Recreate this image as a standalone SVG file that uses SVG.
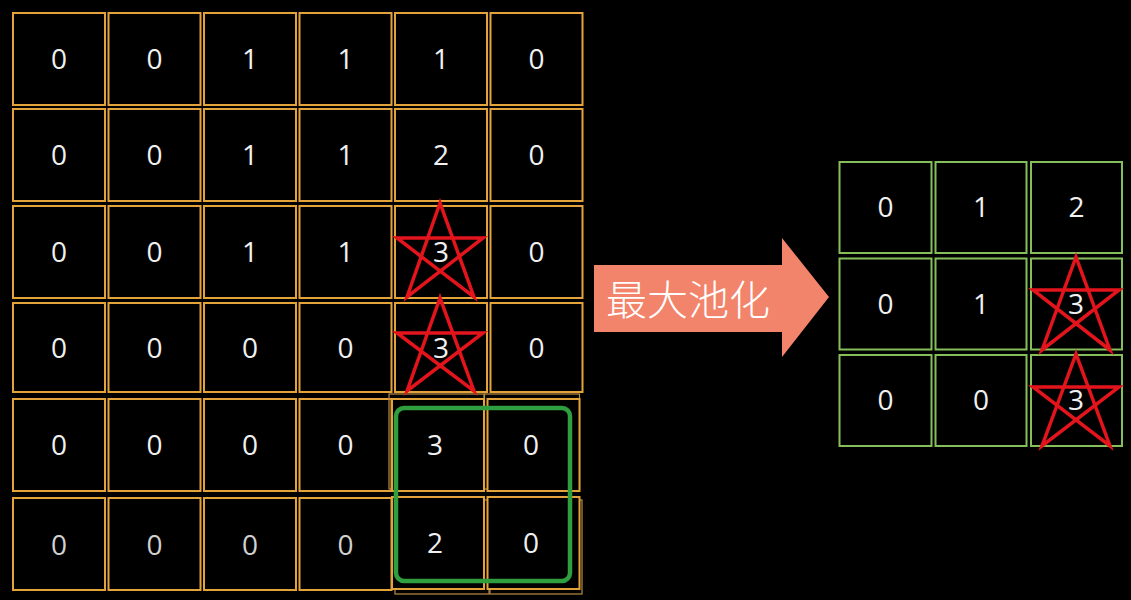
<svg xmlns="http://www.w3.org/2000/svg" width="1131" height="600" viewBox="0 0 1131 600">
<style>
.bg{fill:#000}
.oc{fill:#000;stroke:#e3a33a;stroke-width:2}
.oc2{fill:none;stroke:#b98a45;stroke-width:1.2}
.gc{fill:#000;stroke:#86bf5a;stroke-width:2}
.n{font-family:"Open Sans","Noto Sans",sans-serif;font-size:28px;fill:#f0f0f0;text-anchor:middle}
.n.dim{fill:#d0d0d0}
.star{fill:none;stroke:#e3141c;stroke-width:3.5;stroke-linejoin:miter}
.win{fill:none;stroke:#2e9e3e;stroke-width:4.5}
.arrow{fill:#f2846b}
.lbl{font-family:"Noto Sans CJK SC","Noto Sans",sans-serif;font-size:41px;font-weight:300;fill:#ffffff}
</style>
<rect class="bg" x="0" y="0" width="1131" height="600"/>

<g id="input-grid">
  <g id="in-r1">
    <rect class="oc" x="13" y="13" width="92" height="92"/><text class="n" x="59" y="69">0</text>
    <rect class="oc" x="108.5" y="13" width="92" height="92"/><text class="n" x="154.5" y="69">0</text>
    <rect class="oc" x="204" y="13" width="92" height="92"/><text class="n" x="250" y="69">1</text>
    <rect class="oc" x="299.5" y="13" width="92" height="92"/><text class="n" x="345.5" y="69">1</text>
    <rect class="oc" x="395" y="13" width="92" height="92"/><text class="n" x="441" y="69">1</text>
    <rect class="oc" x="490.5" y="13" width="92" height="92"/><text class="n" x="536.5" y="69">0</text>
  </g>
  <g id="in-r2">
    <rect class="oc" x="13" y="109" width="92" height="92"/><text class="n" x="59" y="165">0</text>
    <rect class="oc" x="108.5" y="109" width="92" height="92"/><text class="n" x="154.5" y="165">0</text>
    <rect class="oc" x="204" y="109" width="92" height="92"/><text class="n" x="250" y="165">1</text>
    <rect class="oc" x="299.5" y="109" width="92" height="92"/><text class="n" x="345.5" y="165">1</text>
    <rect class="oc" x="395" y="109" width="92" height="92"/><text class="n" x="441" y="165">2</text>
    <rect class="oc" x="490.5" y="109" width="92" height="92"/><text class="n" x="536.5" y="165">0</text>
  </g>
  <g id="in-r3">
    <rect class="oc" x="13" y="206" width="92" height="92"/><text class="n" x="59" y="262">0</text>
    <rect class="oc" x="108.5" y="206" width="92" height="92"/><text class="n" x="154.5" y="262">0</text>
    <rect class="oc" x="204" y="206" width="92" height="92"/><text class="n" x="250" y="262">1</text>
    <rect class="oc" x="299.5" y="206" width="92" height="92"/><text class="n" x="345.5" y="262">1</text>
    <rect class="oc" x="395" y="206" width="92" height="92"/><text class="n" x="441" y="262">3</text>
    <rect class="oc" x="490.5" y="206" width="92" height="92"/><text class="n" x="536.5" y="262">0</text>
  </g>
  <g id="in-r4">
    <rect class="oc" x="13" y="303" width="92" height="89"/><text class="n" x="59" y="358">0</text>
    <rect class="oc" x="108.5" y="303" width="92" height="89"/><text class="n" x="154.5" y="358">0</text>
    <rect class="oc" x="204" y="303" width="92" height="89"/><text class="n" x="250" y="358">0</text>
    <rect class="oc" x="299.5" y="303" width="92" height="89"/><text class="n" x="345.5" y="358">0</text>
    <rect class="oc" x="395" y="303" width="92" height="89"/><text class="n" x="441" y="358">3</text>
    <rect class="oc" x="490.5" y="303" width="92" height="89"/><text class="n" x="536.5" y="358">0</text>
  </g>
  <g id="in-r5">
    <rect class="oc" x="13" y="399" width="92" height="92"/><text class="n" x="59" y="455">0</text>
    <rect class="oc" x="108.5" y="399" width="92" height="92"/><text class="n" x="154.5" y="455">0</text>
    <rect class="oc" x="204" y="399" width="92" height="92"/><text class="n" x="250" y="455">0</text>
    <rect class="oc" x="299.5" y="399" width="92" height="92"/><text class="n" x="345.5" y="455">0</text>
    <rect class="oc2" x="389" y="394" width="95" height="95"/>
    <rect class="oc2" x="484.5" y="394" width="95" height="95"/>
    <rect class="oc" x="392" y="399" width="92" height="92"/><text class="n" x="435" y="455">3</text>
    <rect class="oc" x="487.5" y="399" width="92" height="92"/><text class="n" x="531" y="455">0</text>
  </g>
  <g id="in-r6">
    <rect class="oc" x="13" y="498" width="92" height="92"/><text class="n dim" x="59" y="555">0</text>
    <rect class="oc" x="108.5" y="498" width="92" height="92"/><text class="n dim" x="154.5" y="555">0</text>
    <rect class="oc" x="204" y="498" width="92" height="92"/><text class="n dim" x="250" y="555">0</text>
    <rect class="oc" x="299.5" y="498" width="92" height="92"/><text class="n dim" x="345.5" y="555">0</text>
    <rect class="oc2" x="395" y="500" width="94" height="94"/>
    <rect class="oc2" x="490" y="500" width="92" height="94"/>
    <rect class="oc" x="392" y="497" width="92" height="92"/><text class="n" x="435" y="553">2</text>
    <rect class="oc" x="487.5" y="497" width="92" height="92"/><text class="n" x="531" y="553">0</text>
  </g>
</g>

<g id="pool-window">
  <rect class="win" x="396" y="408" width="174" height="173" rx="8"/>
</g>

<g id="input-stars">
  <path class="star" d="M440,203 L407,297 L483,238 L397,238 L474,297 Z"/>
  <path class="star" d="M440,298 L407,391 L483,333 L397,333 L474,391 Z"/>
</g>

<g id="pool-arrow">
  <path class="arrow" d="M594,265 L782,265 L782,238 L829,297 L782,357 L782,332 L594,332 Z"/>
  <text class="lbl" x="606" y="315">最大池化</text>
</g>

<g id="output-grid">
  <g id="out-r1">
    <rect class="gc" x="839.5" y="162" width="92" height="91"/><text class="n" x="885.5" y="217">0</text>
    <rect class="gc" x="935.5" y="162" width="91" height="91"/><text class="n" x="981" y="217">1</text>
    <rect class="gc" x="1031" y="162" width="91" height="91"/><text class="n" x="1076.5" y="217">2</text>
  </g>
  <g id="out-r2">
    <rect class="gc" x="839.5" y="258.5" width="92" height="91"/><text class="n" x="885.5" y="313.5">0</text>
    <rect class="gc" x="935.5" y="258.5" width="91" height="91"/><text class="n" x="981" y="313.5">1</text>
    <rect class="gc" x="1031" y="258.5" width="91" height="91"/><text class="n" x="1076" y="313.5">3</text>
  </g>
  <g id="out-r3">
    <rect class="gc" x="839.5" y="355" width="92" height="91"/><text class="n" x="885.5" y="410">0</text>
    <rect class="gc" x="935.5" y="355" width="91" height="91"/><text class="n" x="981" y="410">0</text>
    <rect class="gc" x="1031" y="355" width="91" height="91"/><text class="n" x="1076" y="410">3</text>
  </g>
</g>

<g id="output-stars">
  <path class="star" d="M1076,257 L1042,350 L1119,290 L1033,290 L1110,350 Z"/>
  <path class="star" d="M1076,354 L1042,446 L1119,387 L1033,387 L1110,446 Z"/>
</g>
</svg>
